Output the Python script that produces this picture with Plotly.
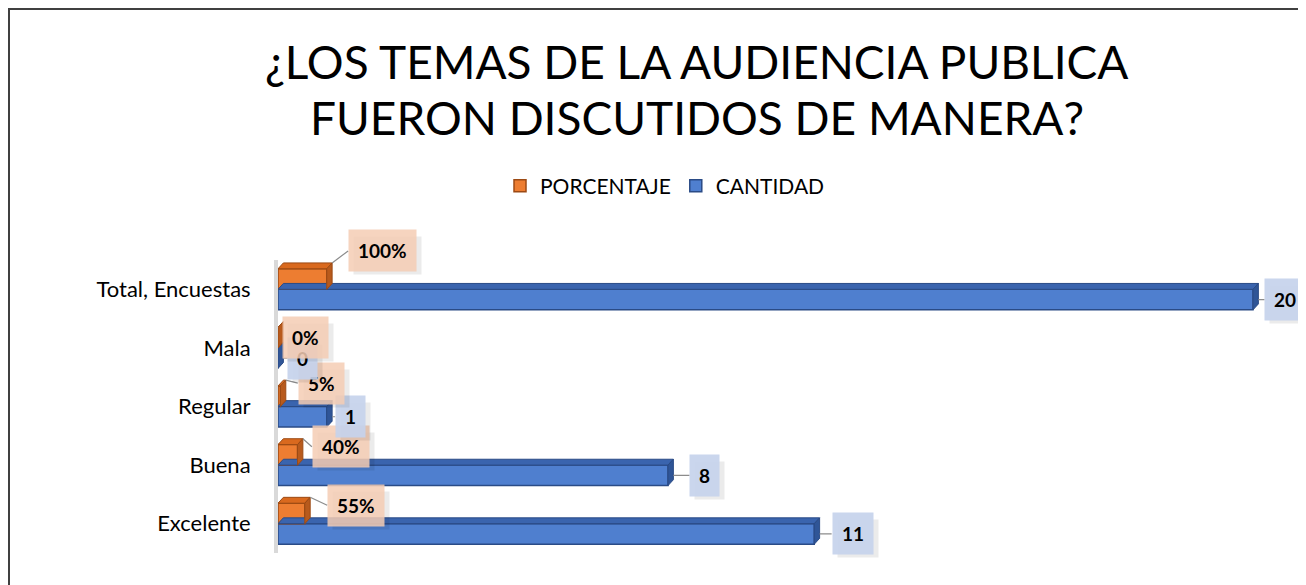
import plotly.graph_objects as go

categories = ["Excelente", "Buena", "Regular", "Mala", "Total, Encuestas"]
cantidad = [11, 8, 1, 0, 20]
porcentaje = [0.55, 0.40, 0.05, 0.0, 1.0]
porcentaje_labels = ["55%", "40%", "5%", "0%", "100%"]
cantidad_labels = ["11", "8", "1", "0", "20"]
title_lines = ["¿LOS TEMAS DE LA AUDIENCIA PUBLICA", "FUERON DISCUTIDOS DE MANERA?"]

# label placement (pixel offsets, style only)
ORANGE_AX = [17, 9, 12, -1, 16]
ORANGE_AY = [8, 8, 3, 16, -12]
BLUE_AX = [12, 16, 3, 4, 6]

OFF = 8  # page body margin
W, H = 1306 - OFF, 585 - OFF
FONT = "Lato"
BAR_W = 0.35
DX, DY = 0.11, 0.1  # 3D depth in axis units

ORANGE, ORANGE_TOP, ORANGE_SIDE, ORANGE_LINE = "#ED7D31", "#D9691E", "#B85A1C", "#9C4A14"
BLUE, BLUE_TOP, BLUE_SIDE, BLUE_LINE = "#4F7FCF", "#3A64AE", "#2F5597", "#2A4B86"


def px(x):
    return (x - OFF) / W


def py(y):
    return 1 - (y - OFF) / H


def text_w(s):
    # approximate width of bold 19px label text, for the soft shadow box
    return sum(16 if ch == "%" else 11 for ch in s)


ypos = list(range(len(categories)))

fig = go.Figure()
fig.add_trace(go.Bar(
    y=ypos, x=cantidad, orientation="h", name="CANTIDAD",
    width=BAR_W, offset=-BAR_W, legendrank=2,
    marker=dict(color=BLUE, line=dict(color=BLUE_LINE, width=1.5)),
    hoverinfo="skip",
))
fig.add_trace(go.Bar(
    y=ypos, x=porcentaje, orientation="h", name="PORCENTAJE",
    width=BAR_W, offset=0, legendrank=1,
    marker=dict(color=ORANGE, line=dict(color=ORANGE_LINE, width=1.5)),
    hoverinfo="skip",
))

shapes = []


def add_3d(v, y0, y1, top_c, side_c, line_c):
    top = f"M 0 {y1} L {v} {y1} L {v + DX} {y1 + DY} L {DX} {y1 + DY} Z"
    side = f"M {v} {y0} L {v} {y1} L {v + DX} {y1 + DY} L {v + DX} {y0 + DY} Z"
    for p, c in ((top, top_c), (side, side_c)):
        shapes.append(dict(type="path", path=p, xref="x", yref="y",
                           fillcolor=c, line=dict(color=line_c, width=1), layer="above"))


for i in ypos:
    add_3d(cantidad[i], i - BAR_W, i, BLUE_TOP, BLUE_SIDE, BLUE_LINE)
    add_3d(porcentaje[i], i, i + BAR_W, ORANGE_TOP, ORANGE_SIDE, ORANGE_LINE)

# chart border
shapes.append(dict(type="rect", xref="paper", yref="paper",
                   x0=px(9), x1=px(1304), y0=-0.2, y1=py(9),
                   line=dict(color="#404040", width=2), fillcolor="rgba(0,0,0,0)"))

annotations = []
LAB_FONT = dict(family=FONT, size=19, color="black", weight="bold")
PAD = 9
SH = 5


def shadow(x, y, ax, ay, label):
    return dict(
        x=x, y=y, xref="x", yref="y", text="&nbsp;",
        width=text_w(label), height=19, align="left",
        showarrow=True, arrowcolor="rgba(0,0,0,0)", ax=ax + SH, ay=ay + SH,
        xanchor="left", font=dict(family=FONT, size=19, color="rgba(0,0,0,0)"),
        bgcolor="rgba(0,0,0,0.08)", borderpad=PAD,
    )


for i in ypos:
    # blue value labels
    bx, by = cantidad[i] + DX, i - BAR_W / 2
    annotations.append(shadow(bx, by, BLUE_AX[i], 0, cantidad_labels[i]))
    annotations.append(dict(
        x=bx, y=by, xref="x", yref="y", text=cantidad_labels[i],
        showarrow=True, arrowhead=0, arrowwidth=1.2, arrowcolor="#8c8c8c",
        ax=BLUE_AX[i], ay=0, xanchor="left",
        font=LAB_FONT, bgcolor="rgba(197,211,236,0.92)", borderpad=PAD,
    ))
    # orange value labels
    ox, oy = porcentaje[i] + DX, i + BAR_W + DY
    annotations.append(shadow(ox, oy, ORANGE_AX[i], ORANGE_AY[i], porcentaje_labels[i]))
    annotations.append(dict(
        x=ox, y=oy, xref="x", yref="y", text=porcentaje_labels[i],
        showarrow=True, arrowhead=0, arrowwidth=1.2, arrowcolor="#8c8c8c",
        ax=ORANGE_AX[i], ay=ORANGE_AY[i], xanchor="left",
        font=LAB_FONT, bgcolor="rgba(245,205,180,0.85)", borderpad=PAD,
    ))

for line, yc in zip(title_lines, (62, 118)):
    annotations.append(dict(
        x=px(697), y=py(yc), xref="paper", yref="paper", showarrow=False,
        text=line, font=dict(family=FONT, size=46, color="black"),
        xanchor="center", yanchor="middle",
    ))

fig.update_layout(
    width=W, height=H,
    paper_bgcolor="white", plot_bgcolor="white",
    margin=dict(l=0, r=0, t=0, b=0),
    barmode="overlay",
    showlegend=True,
    legend=dict(orientation="h", x=px(500), y=py(186), xanchor="left", yanchor="middle",
                font=dict(family=FONT, size=21, color="black"), itemwidth=30,
                traceorder="normal"),
    shapes=shapes,
    annotations=annotations,
    xaxis=dict(range=[0, 20.3], domain=[px(278), px(278 + 20.3 * 48.75)],
               showticklabels=False, showgrid=False, zeroline=False, showline=False),
    yaxis=dict(range=[-0.5, 4.5], domain=[py(553), py(260)],
               tickmode="array", tickvals=ypos, ticktext=categories,
               tickfont=dict(family=FONT, size=22, color="black"),
               ticks="outside", ticklen=19, tickcolor="rgba(0,0,0,0)",
               showgrid=False, zeroline=False,
               showline=True, linecolor="#D9D9D9", linewidth=4),
)

fig.write_html("out.html")
